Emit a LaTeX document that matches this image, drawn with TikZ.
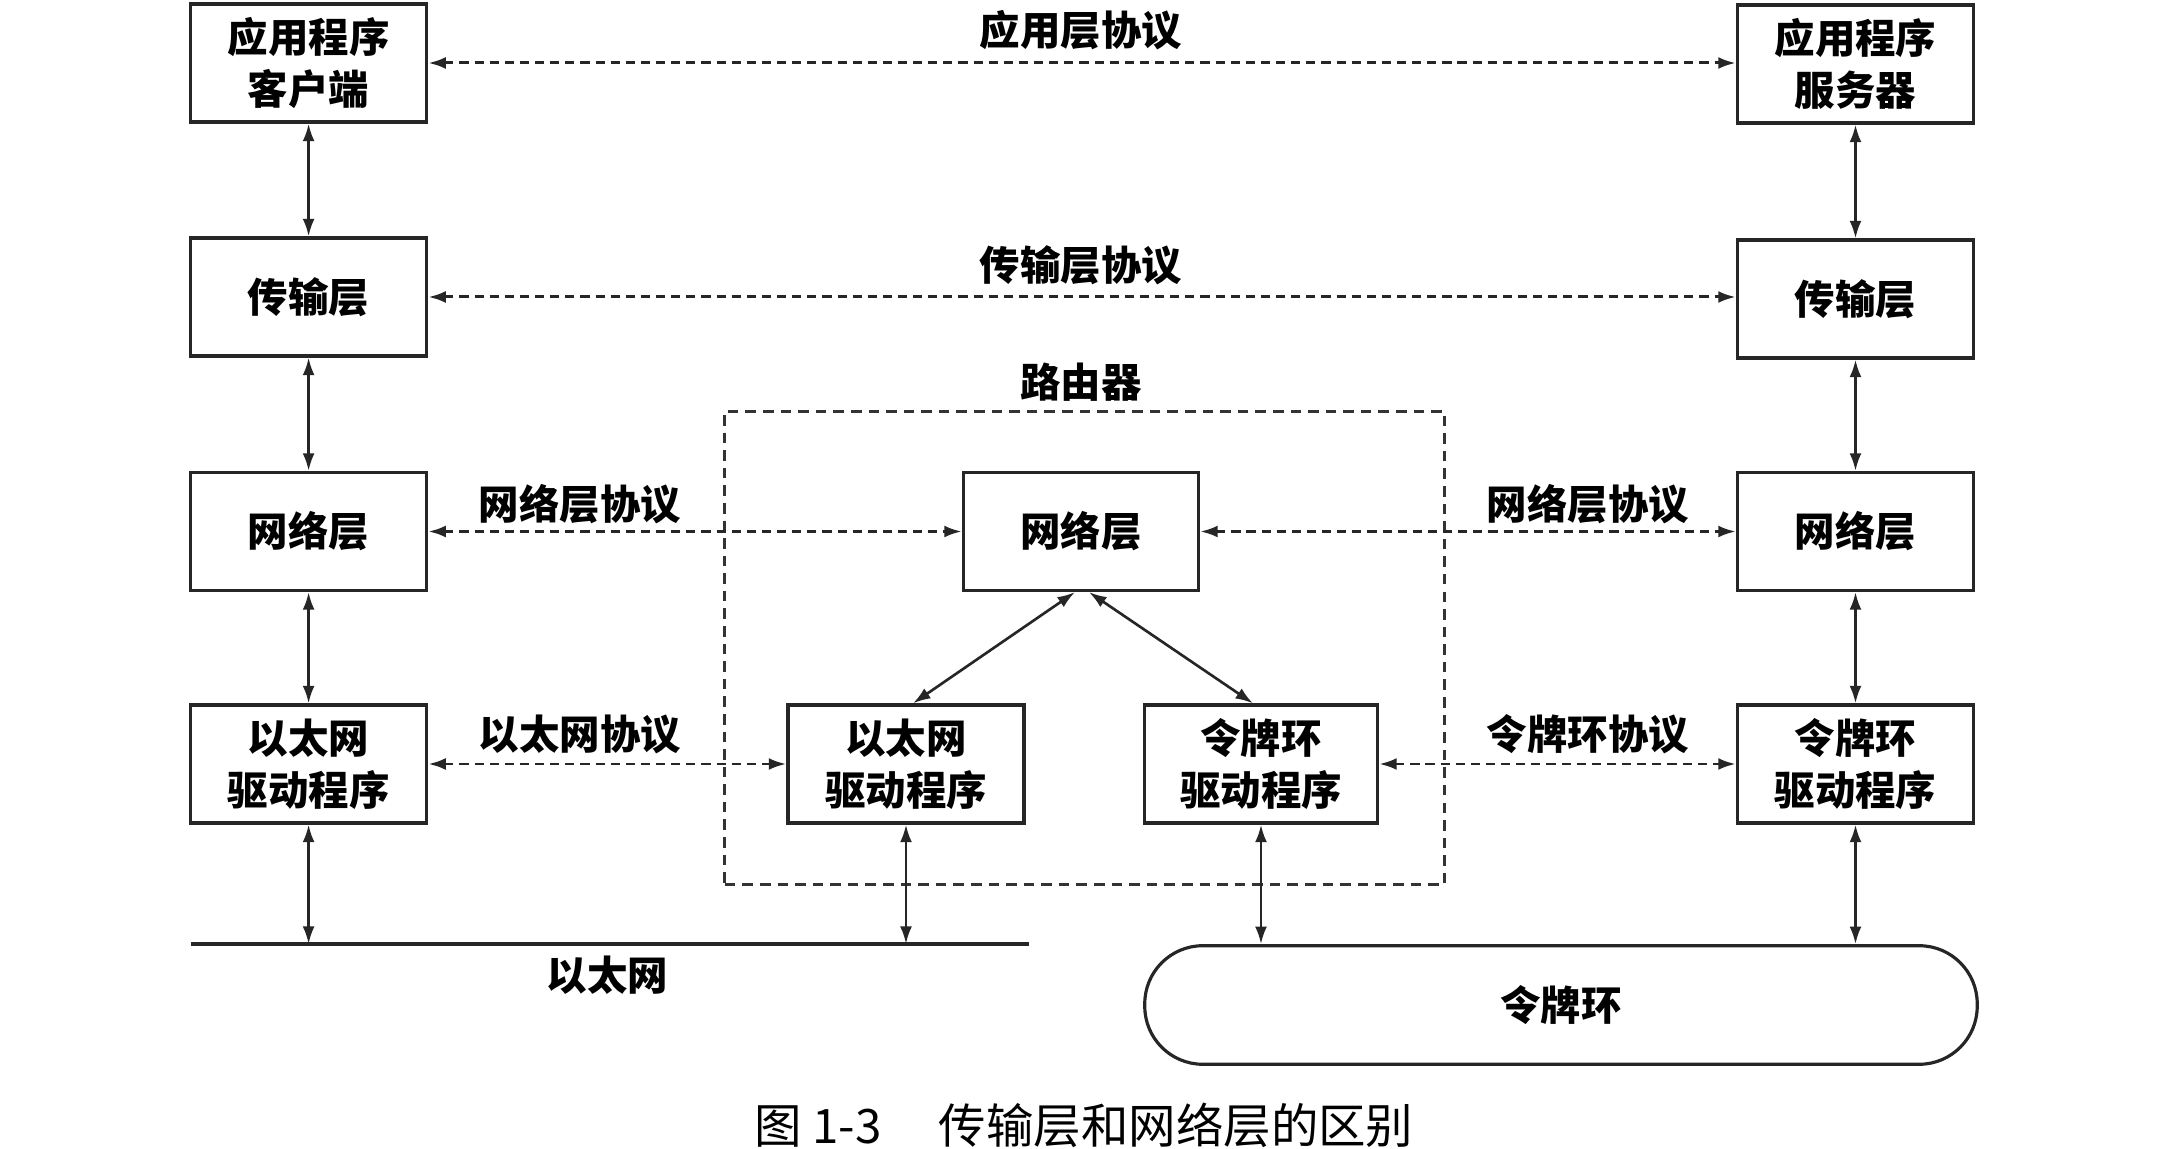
\documentclass[tikz,border=0pt]{standalone}
\usepackage{fontspec}
\newfontfamily\cjk{Noto Sans CJK SC}
\usetikzlibrary{arrows.meta}
\begin{document}
\begin{tikzpicture}[x=0.01cm,y=-0.01cm,
  ink/.style={draw=black!85, line width=0.9pt},
  layerbox/.style={ink, rectangle, minimum width=2.36cm, minimum height=1.18cm,
    align=center, inner sep=0pt, font=\cjk\bfseries\fontsize{11.5}{14.8}\selectfont},
  lbl/.style={inner sep=0pt, font=\cjk\bfseries\fontsize{11.5}{14.8}\selectfont},
  biarrow/.style={draw=black!85, line width=0.75pt, {Latex[length=5pt,width=3.4pt]}-{Latex[length=5pt,width=3.4pt]}},
  protoarrow/.style={biarrow, line width=0.85pt, dash pattern=on 2.6pt off 1.7pt},
  routerbox/.style={draw=black!80, line width=0.8pt, dash pattern=on 3pt off 2pt,
    minimum width=7.19cm, minimum height=4.735cm, inner sep=0pt},
  ringbox/.style={ink, rectangle, rounded corners=0.58cm, minimum width=8.32cm,
    minimum height=1.185cm, inner sep=0pt, font=\cjk\bfseries\fontsize{11.5}{14.8}\selectfont}
]
\useasboundingbox[fill=white] (0,0) rectangle (2165,1149);

% client host
\node[layerbox] (appc) at (308.6,63) {应用程序\\客户端};
\node[layerbox] (trc)  at (308.6,297) {传输层};
\node[layerbox] (netc) at (308.6,531.5) {网络层};
\node[layerbox] (ethc) at (308.6,764) {以太网\\驱动程序};

% server host
\node[layerbox] (apps) at (1855.5,64) {应用程序\\服务器};
\node[layerbox] (trs)  at (1855.5,299) {传输层};
\node[layerbox] (nets) at (1855.5,531.5) {网络层};
\node[layerbox] (trds) at (1855.5,764) {令牌环\\驱动程序};

% router
\node[routerbox] (router) at (1084.5,648) {};
\node[lbl] (routerlbl) at (1081,382) {路由器};
\node[layerbox, minimum width=2.35cm] (rnet) at (1081,531.5) {网络层};
\node[layerbox] (reth) at (906,764) {以太网\\驱动程序};
\node[layerbox, minimum width=2.33cm] (rtr) at (1261,764) {令牌环\\驱动程序};

% networks
\coordinate (ethL) at (190.5,944);
\coordinate (ethR) at (1028.6,944);
\draw[ink] (ethL) -- (ethR);
\node[lbl] (ethlbl) at (607.5,975) {以太网};
\node[ringbox] (ring) at (1561,1005) {令牌环};

% vertical stacks
\draw[biarrow] (appc) -- (trc);
\draw[biarrow] (trc) -- (netc);
\draw[biarrow] (netc) -- (ethc);
\draw[biarrow] (ethc.south) -- (ethc.south |- ethL);
\draw[biarrow] (apps) -- (trs);
\draw[biarrow] (trs) -- (nets);
\draw[biarrow] (nets) -- (trds);
\draw[biarrow] (trds.south) -- (trds.south |- ring.north);
\draw[biarrow] (reth.south) -- (reth.south |- ethL);
\draw[biarrow] (rtr.south) -- (rtr.south |- ring.north);
\draw[biarrow] ([xshift=-0.06cm]rnet.south) -- ([xshift=0.07cm]reth.north);
\draw[biarrow] ([xshift=0.08cm]rnet.south) -- ([xshift=-0.08cm]rtr.north);

% peer protocols
\draw[protoarrow] (appc.east) -- (appc.east -| apps.west);
\node[lbl] (p1) at (1081,30) {应用层协议};
\draw[protoarrow] (trc.east) -- (trc.east -| trs.west);
\node[lbl] (p2) at (1081,265) {传输层协议};
\draw[protoarrow] (netc.east) -- (rnet.west);
\node[lbl] (p3) at (580,504) {网络层协议};
\draw[protoarrow] (rnet.east) -- (nets.west);
\node[lbl] (p4) at (1588,504) {网络层协议};
\draw[protoarrow] (ethc.east) -- (reth.west);
\node[lbl] (p5) at (580,734) {以太网协议};
\draw[protoarrow] (rtr.east) -- (trds.west);
\node[lbl] (p6) at (1588,734) {令牌环协议};

% caption
\node[inner sep=0pt, font=\cjk\fontsize{13.5}{16}\selectfont] (caption) at (1084,1125) {图 1-3\hspace{1.2em}传输层和网络层的区别};
\end{tikzpicture}
\end{document}
